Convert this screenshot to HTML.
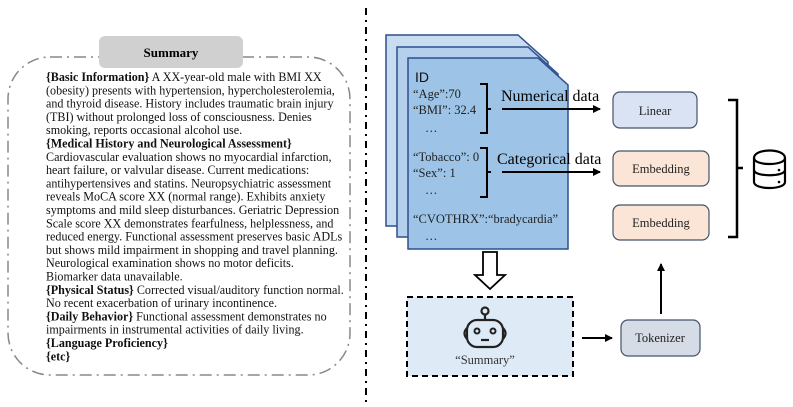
<!DOCTYPE html>
<html><head><meta charset="utf-8"><style>
html,body{margin:0;padding:0;background:#fff;}
svg{display:block;}
text{font-family:"Liberation Serif",serif;}
.s{font-family:"Liberation Sans",sans-serif;}
</style></head><body>
<svg width="793" height="407" viewBox="0 0 793 407" xmlns="http://www.w3.org/2000/svg">
<defs>
<marker id="ah" markerWidth="8" markerHeight="8" refX="7" refY="4" orient="auto" markerUnits="userSpaceOnUse">
<path d="M0,0 L8,4 L0,8 z" fill="#000"/></marker>
</defs>
<line x1="366" y1="8" x2="366" y2="402" stroke="#000" stroke-width="2" stroke-dasharray="7,5,2,5"/>
<rect x="8" y="57" width="342" height="318" rx="42" fill="none" stroke="#888" stroke-width="1.5" stroke-dasharray="12,5,2,5"/>
<rect x="99" y="36" width="144" height="32" rx="6" fill="#d0d0d0"/>
<text x="171" y="57" text-anchor="middle" font-size="13" font-weight="bold">Summary</text>
<g font-size="12.1" fill="#111">
<text x="46" y="81"><tspan font-weight="bold">{Basic Information}</tspan> A XX-year-old male with BMI XX</text>
<text x="46" y="94.3">(obesity) presents with hypertension, hypercholesterolemia,</text>
<text x="46" y="107.6">and thyroid disease. History includes traumatic brain injury</text>
<text x="46" y="120.9">(TBI) without prolonged loss of consciousness. Denies</text>
<text x="46" y="134.2">smoking, reports occasional alcohol use.</text>
<text x="46" y="147.5" font-weight="bold">{Medical History and Neurological Assessment}</text>
<text x="46" y="160.8">Cardiovascular evaluation shows no myocardial infarction,</text>
<text x="46" y="174.1">heart failure, or valvular disease. Current medications:</text>
<text x="46" y="187.4">antihypertensives and statins. Neuropsychiatric assessment</text>
<text x="46" y="200.7">reveals MoCA score XX (normal range). Exhibits anxiety</text>
<text x="46" y="214">symptoms and mild sleep disturbances. Geriatric Depression</text>
<text x="46" y="227.3">Scale score XX demonstrates fearfulness, helplessness, and</text>
<text x="46" y="240.6">reduced energy. Functional assessment preserves basic ADLs</text>
<text x="46" y="253.9">but shows mild impairment in shopping and travel planning.</text>
<text x="46" y="267.2">Neurological examination shows no motor deficits.</text>
<text x="46" y="280.5">Biomarker data unavailable.</text>
<text x="46" y="293.8"><tspan font-weight="bold">{Physical Status}</tspan> Corrected visual/auditory function normal.</text>
<text x="46" y="307.1">No recent exacerbation of urinary incontinence.</text>
<text x="46" y="320.4"><tspan font-weight="bold">{Daily Behavior}</tspan> Functional assessment demonstrates no</text>
<text x="46" y="333.7">impairments in instrumental activities of daily living.</text>
<text x="46" y="347" font-weight="bold">{Language Proficiency}</text>
<text x="46" y="360.3" font-weight="bold">{etc}</text>
</g>
<path d="M386,35 H518 L548,62 V226 H386 Z" fill="#c9ddf1" stroke="#2f4f8f" stroke-width="1.5"/>
<path d="M397,47 H528 L558,74 V237 H397 Z" fill="#b4d0ec" stroke="#2f4f8f" stroke-width="1.5"/>
<path d="M408,58 H538 L568,85 V249 H408 Z" fill="#9dc3e6" stroke="#2f4f8f" stroke-width="1.5"/>
<text x="415" y="82" class="s" font-size="14" fill="#111">ID</text>
<g font-size="12.5" fill="#222">
<text x="413" y="98">“Age”:70</text>
<text x="413" y="114">“BMI”: 32.4</text>
<text x="425" y="132">…</text>
<text x="413" y="161">“Tobacco”: 0</text>
<text x="413" y="177">“Sex”:  1</text>
<text x="425" y="194">…</text>
<text x="413" y="223">“CVOTHRX”:“bradycardia”</text>
<text x="425" y="240">…</text>
</g>
<path d="M480,84 H487 V133 H480 M487,109 H491" fill="none" stroke="#000" stroke-width="2"/>
<path d="M480,148 H487 V197 H480 M487,172 H491" fill="none" stroke="#000" stroke-width="2"/>
<text x="501" y="101" font-size="16">Numerical data</text>
<text x="497" y="164" font-size="16">Categorical data</text>
<line x1="502" y1="109" x2="600" y2="109" stroke="#000" stroke-width="2" marker-end="url(#ah)"/>
<line x1="502" y1="172" x2="600" y2="172" stroke="#000" stroke-width="2" marker-end="url(#ah)"/>
<rect x="613" y="92" width="84" height="36" rx="7" fill="#dae3f3" stroke="#44546a" stroke-width="1.2"/>
<text x="655" y="115" text-anchor="middle" font-size="12.5" fill="#222">Linear</text>
<rect x="613" y="151" width="96" height="35" rx="7" fill="#fbe5d6" stroke="#44546a" stroke-width="1.2"/>
<text x="661" y="173" text-anchor="middle" font-size="12.5" fill="#222">Embedding</text>
<rect x="613" y="205" width="96" height="35" rx="7" fill="#fbe5d6" stroke="#44546a" stroke-width="1.2"/>
<text x="661" y="227" text-anchor="middle" font-size="12.5" fill="#222">Embedding</text>
<path d="M728,100 H737 V237 H728 M737,168 H743" fill="none" stroke="#000" stroke-width="2.5"/>
<g fill="none" stroke="#000" stroke-width="2.2">
<path d="M754,158 C754,148 785,148 785,158 C785,166 754,166 754,158 Z"/>
<path d="M754,158 V182 C754,190 785,190 785,182 V158"/>
<path d="M754,170 C754,177 785,177 785,170"/>
</g>
<circle cx="779" cy="170" r="1.3" fill="#000"/><circle cx="779" cy="182" r="1.3" fill="#000"/>
<path d="M483,252 H497 V275 H505 L490,289 L475,275 H483 Z" fill="#fff" stroke="#000" stroke-width="1.8"/>
<rect x="407" y="297" width="166" height="79" fill="#deebf7" stroke="#000" stroke-width="2" stroke-dasharray="6,4"/>
<g fill="none" stroke="#222" stroke-width="2.2">
<circle cx="485" cy="311" r="3.5"/>
<line x1="485" y1="315" x2="485" y2="320"/>
<rect x="467" y="320" width="36" height="27" rx="10"/>
<path d="M467,328 Q462,333 467,339 M503,328 Q508,333 503,339"/>
<line x1="481" y1="340" x2="489" y2="340"/>
</g>
<circle cx="477" cy="331" r="2.5" fill="none" stroke="#222" stroke-width="2"/>
<circle cx="493" cy="331" r="2.5" fill="none" stroke="#222" stroke-width="2"/>
<text x="485" y="364" text-anchor="middle" font-size="12.5" fill="#333">“Summary”</text>
<line x1="582" y1="338" x2="612" y2="338" stroke="#000" stroke-width="2" marker-end="url(#ah)"/>
<rect x="621" y="320" width="79" height="36" rx="7" fill="#d6dce5" stroke="#44546a" stroke-width="1.2"/>
<text x="660" y="342" text-anchor="middle" font-size="12.5" fill="#222">Tokenizer</text>
<line x1="661" y1="314" x2="661" y2="264" stroke="#000" stroke-width="2" marker-end="url(#ah)"/>
</svg>
</body></html>
